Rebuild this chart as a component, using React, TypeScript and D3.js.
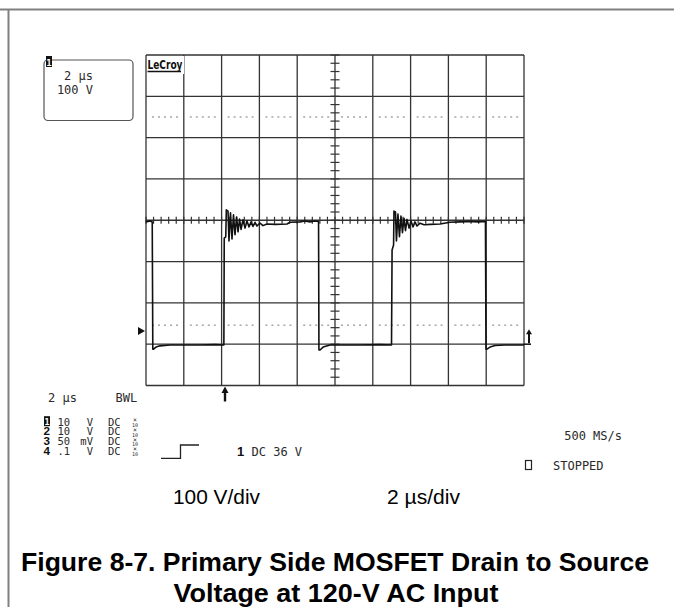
import React from "react";
import * as d3 from "d3";

// ---- Data (channel 1 drain-source trace) ----
const traceTimeUs = [
  0, 0.21, 0.33, 0.36, 0.40, 0.53, 0.74, 1.27,
  2.86, 3.65, 4.12,
  4.14, 4.22, 4.25, 4.34, 4.39, 4.47, 4.55, 4.63, 4.71, 4.79, 4.87, 4.95, 5.03, 5.13,
  5.24, 5.34, 5.45, 5.56, 5.66, 5.77, 5.87, 6.03, 6.19, 6.40, 6.83, 7.46, 7.62,
  8.15, 8.41, 8.68, 8.89, 9.13,
  9.15, 9.21, 9.37, 9.74, 11.32, 12.38, 12.99,
  13.02, 13.10, 13.12, 13.20, 13.25, 13.33, 13.41, 13.49, 13.57, 13.65, 13.73, 13.81, 13.92,
  14.02, 14.13, 14.23, 14.34, 14.50, 14.71, 15.03, 15.56, 16.08, 16.61, 17.14, 17.57, 17.96,
  17.99, 18.04, 18.20, 18.47, 18.99, 20.0,
];
const traceVolts = [
  298, 300, 298, -10, -10, -5, -2, 0,
  0, 1, 0,
  259, 262, 327, 324, 252, 320, 257, 315, 267, 310, 274, 305, 280, 303,
  283, 300, 286, 298, 287, 297, 288, 295, 289, 293, 292, 293, 297,
  298, 300, 298, 300, 299,
  -12, -12, -5, 0, 0, 1, 0,
  230, 242, 324, 322, 252, 317, 262, 312, 272, 307, 277, 304, 283,
  300, 286, 298, 288, 295, 291, 292, 293, 297, 298, 299, 298, 299,
  -10, -10, -5, -1, 0, 0,
];

const timeDomainUs = [0, 20];
const voltDomain = [-98, 702];
const timeDivs = 10;
const voltDivs = 8;
const triggerTimeUs = 4.18;
const groundMarkerVolts = 34;
const triggerLevelVolts = 2;
const dottedLevelsVolts = [552, 48];

const channelIds = ["1", "2", "3", "4"];
const channelScales = ["10", "10", "50", ".1"];
const channelUnits = ["V", "V", "mV", "V"];
const channelCoupling = ["DC", "DC", "DC", "DC"];

const boxLines = ["2 µs", "100 V"];
const timebaseLabel = "2 µs";
const bwlLabel = "BWL";
const triggerLabel = "DC 36 V";
const sampleRateLabel = "500 MS/s";
const statusLabel = "STOPPED";
const vDivLabel = "100 V/div";
const tDivLabel = "2 µs/div";
const captionLines = [
  "Figure 8-7. Primary Side MOSFET Drain to Source",
  "Voltage at 120-V AC Input",
];

const MONO = "'DejaVu Sans Mono', monospace";
const SANS = "'Liberation Sans', Arial, sans-serif";
const INK = "#2a2a2a";

export default function App() {
  const L = 146, R = 524, T = 55, B = 385.5;
  const x = d3.scaleLinear().domain(timeDomainUs).range([L, R]);
  const y = d3.scaleLinear().domain(voltDomain).range([B, T]);
  const xDiv = d3.scaleLinear().domain([0, timeDivs]).range([L, R]);
  const yDiv = d3.scaleLinear().domain([0, voltDivs]).range([B, T]);

  const pts: [number, number][] = traceTimeUs.map((t, i) => [t, traceVolts[i]]);
  const line = d3.line<[number, number]>().x((d) => x(d[0])).y((d) => y(d[1]));

  const cx = xDiv(timeDivs / 2);
  const cy = yDiv(voltDivs / 2);

  const hTicks = d3.range(0, timeDivs * 5 + 1).map((i) => xDiv(i / 5));
  const vTicks = d3.range(0, voltDivs * 5 + 1).map((i) => yDiv(i / 5));

  const dots: { x: number; y: number }[] = [];
  dottedLevelsVolts.forEach((v) => {
    for (let c = 0; c < timeDivs; c++) {
      const x0 = xDiv(c);
      for (let k = 0; k < 5; k++) dots.push({ x: x0 + 7 + k * 6, y: y(v) });
    }
  });

  const rowBase = [425.7, 435.4, 445, 454.5];
  const trigX = x(triggerTimeUs);

  return (
    <svg
      width={674}
      height={607}
      style={{ position: "absolute", left: 0, top: 0, background: "#fff" }}
    >
      <rect x={0} y={0} width={674} height={607} fill="#fff" />
      {/* outer frame */}
      <line x1={0} x2={674} y1={9.5} y2={9.5} stroke="#808080" strokeWidth={2} />
      <line x1={8.5} x2={8.5} y1={9} y2={607} stroke="#808080" strokeWidth={2} />

      {/* top-left info box */}
      <rect x={44} y={60} width={89} height={60.5} rx={4} fill="none" stroke="#555" strokeWidth={1.2} />
      <rect x={46} y={56} width={6} height={11} fill="#111" />
      <text x={49} y={65.5} fontFamily={MONO} fontSize={9} fontWeight="bold" fill="#fff" textAnchor="middle">1</text>
      <text x={93} y={79.5} fontFamily={MONO} fontSize={12} fill={INK} textAnchor="end">{boxLines[0]}</text>
      <text x={93} y={94} fontFamily={MONO} fontSize={12} fill={INK} textAnchor="end">{boxLines[1]}</text>

      {/* dotted reference lines */}
      {dots.map((d, i) => (
        <rect key={i} x={d.x - 1} y={d.y - 0.7} width={2} height={1.4} fill="#a0a0a0" />
      ))}

      {/* grid */}
      {d3.range(0, timeDivs + 1).map((i) => (
        <line key={"v" + i} x1={xDiv(i)} x2={xDiv(i)} y1={T} y2={B} stroke="#333" strokeWidth={1.3} />
      ))}
      {d3.range(0, voltDivs + 1).map((i) => (
        <line key={"h" + i} x1={L} x2={R} y1={yDiv(i)} y2={yDiv(i)} stroke="#333" strokeWidth={1.3} />
      ))}
      {hTicks.map((tx, i) => (
        <line key={"ht" + i} x1={tx} x2={tx} y1={cy - 3.5} y2={cy + 3.5} stroke="#333" strokeWidth={1.2} />
      ))}
      {vTicks.map((ty, i) => (
        <line key={"vt" + i} x1={cx - 4.5} x2={cx + 4.5} y1={ty} y2={ty} stroke="#333" strokeWidth={1.2} />
      ))}

      {/* LeCroy logo */}
      <rect x={L + 1} y={T + 1} width={37} height={18} fill="#fff" />
      <text x={L + 1.5} y={T + 13.5} fontFamily="'DejaVu Sans Condensed', 'DejaVu Sans', sans-serif" fontSize={12} fontWeight="bold" fill="#111" textLength={35} lengthAdjust="spacingAndGlyphs">LeCroy</text>
      <line x1={L + 1.5} x2={L + 35} y1={T + 16.5} y2={T + 16.5} stroke="#111" strokeWidth={1.5} />

      {/* trace */}
      <path d={line(pts) || ""} fill="none" stroke="#111" strokeWidth={1.6} strokeLinejoin="round" />

      {/* ground marker (left) */}
      <path d={`M${L - 8},${y(groundMarkerVolts) - 4} L${L - 1},${y(groundMarkerVolts)} L${L - 8},${y(groundMarkerVolts) + 4} Z`} fill="#111" />
      {/* trigger level marker (right) */}
      <line x1={R} x2={R + 7} y1={y(triggerLevelVolts)} y2={y(triggerLevelVolts)} stroke="#111" strokeWidth={1.5} />
      <line x1={R + 5} x2={R + 5} y1={y(triggerLevelVolts) - 1} y2={y(triggerLevelVolts) - 13} stroke="#111" strokeWidth={2} />
      <path d={`M${R + 2},${y(triggerLevelVolts) - 10} L${R + 5},${y(triggerLevelVolts) - 15} L${R + 8},${y(triggerLevelVolts) - 10} Z`} fill="#111" />
      {/* trigger position arrow (bottom) */}
      <line x1={trigX} x2={trigX} y1={401.5} y2={391} stroke="#111" strokeWidth={2.4} />
      <path d={`M${trigX - 3.5},${393} L${trigX},${386.5} L${trigX + 3.5},${393} Z`} fill="#111" />

      {/* bottom-left scope readout */}
      <text x={48} y={402} fontFamily={MONO} fontSize={12} fill={INK}>{timebaseLabel}</text>
      <text x={115.5} y={402} fontFamily={MONO} fontSize={12} fill={INK}>{bwlLabel}</text>
      {channelIds.map((id, i) => (
        <g key={"ch" + i}>
          {i === 0 ? (
            <g>
              <rect x={44} y={rowBase[i] - 9.5} width={6} height={10} fill="#111" />
              <text x={47} y={rowBase[i] - 1} fontFamily={MONO} fontSize={8.5} fontWeight="bold" fill="#fff" textAnchor="middle">{id}</text>
            </g>
          ) : (
            <text x={43.5} y={rowBase[i]} fontFamily={SANS} fontSize={11.5} fontWeight="bold" fill="#111" textLength={6.5} lengthAdjust="spacingAndGlyphs">{id}</text>
          )}
          <text x={57.5} y={rowBase[i]} fontFamily={MONO} fontSize={10.5} fill={INK}>{channelScales[i]}</text>
          <text x={93} y={rowBase[i]} fontFamily={MONO} fontSize={10.5} fill={INK} textAnchor="end">{channelUnits[i]}</text>
          <text x={108} y={rowBase[i]} fontFamily={MONO} fontSize={10.5} fill={INK}>{channelCoupling[i]}</text>
          <text fontFamily={MONO} fill={INK} textAnchor="middle">
            <tspan x={135} y={rowBase[i] - 3.5} fontSize={6.5}>×</tspan>
            <tspan x={135} y={rowBase[i] + 1.2} fontSize={5}>10</tspan>
          </text>
        </g>
      ))}

      {/* trigger readout */}
      <path d="M161,458.3 L180.5,458.3 L180.5,445 L199,445" fill="none" stroke="#222" strokeWidth={1.3} />
      <text x={237} y={455.5} fontFamily={SANS} fontSize={13} fontWeight="bold" fill="#111">1</text>
      <text x={251.5} y={455.5} fontFamily={MONO} fontSize={12} fill={INK}>{triggerLabel}</text>

      {/* right readout */}
      <text x={622} y={440} fontFamily={MONO} fontSize={12} fill={INK} textAnchor="end">{sampleRateLabel}</text>
      <rect x={525.5} y={460.5} width={6} height={9} fill="none" stroke="#222" strokeWidth={1.2} />
      <text x={553} y={469.5} fontFamily={MONO} fontSize={12} fill={INK}>{statusLabel}</text>

      {/* annotations */}
      <text x={173} y={503.5} fontFamily={SANS} fontSize={20} fill="#000" textLength={87} lengthAdjust="spacingAndGlyphs">{vDivLabel}</text>
      <text x={387} y={503.5} fontFamily={SANS} fontSize={20} fill="#000" textLength={73} lengthAdjust="spacingAndGlyphs">{tDivLabel}</text>

      {/* caption */}
      <text x={335} y={571} fontFamily={SANS} fontSize={26} fontWeight="bold" fill="#000" textAnchor="middle" textLength={628} lengthAdjust="spacingAndGlyphs">{captionLines[0]}</text>
      <text x={336} y={602} fontFamily={SANS} fontSize={26} fontWeight="bold" fill="#000" textAnchor="middle" textLength={325} lengthAdjust="spacingAndGlyphs">{captionLines[1]}</text>
    </svg>
  );
}
